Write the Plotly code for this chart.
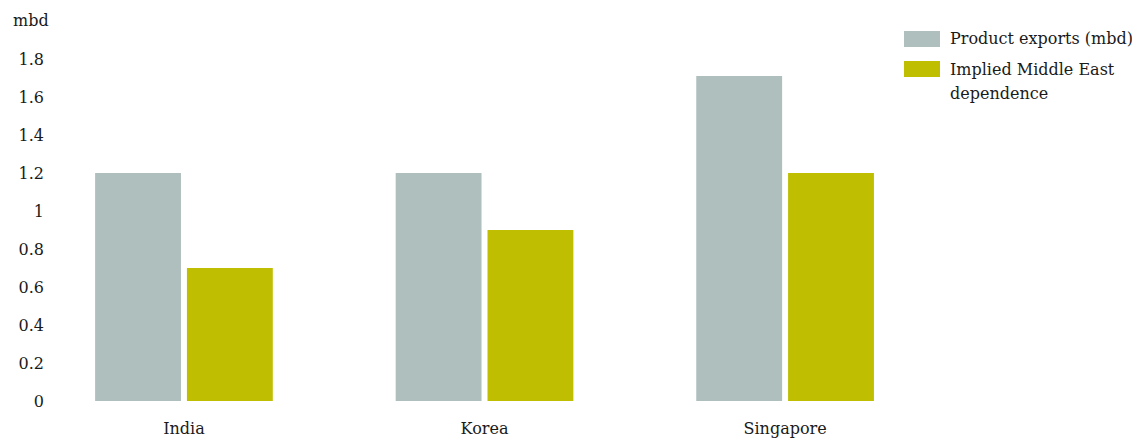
import plotly.graph_objects as go

countries = ["India", "Korea", "Singapore"]
product_exports = [1.2, 1.2, 1.71]
middle_east_dependence = [0.7, 0.9, 1.2]
y_ticks = [0, 0.2, 0.4, 0.6, 0.8, 1, 1.2, 1.4, 1.6, 1.8]
y_tick_text = ["0", "0.2", "0.4", "0.6", "0.8", "1", "1.2", "1.4", "1.6", "1.8"]

GREY = "#afbfbe"
OLIVE = "#bfbe00"
FONT = "DejaVu Serif"
TEXT = "#1a1a1a"

W, H = 1132, 439
ML, MR, MT, MB = 55, W - 890, 59, H - 401

fig = go.Figure()
fig.add_trace(go.Bar(x=[0, 1, 2], y=product_exports, name="Product exports (mbd)",
                     marker=dict(color=GREY, line=dict(width=0))))
fig.add_trace(go.Bar(x=[0, 1, 2], y=middle_east_dependence, name="Implied Middle East dependence",
                     marker=dict(color=OLIVE, line=dict(width=0))))

fig.update_layout(
    width=W, height=H,
    margin=dict(l=ML, r=MR, t=MT, b=MB),
    paper_bgcolor="white", plot_bgcolor="white",
    barmode="group", bargap=0.389, bargroupgap=0.065,
    showlegend=False,
    font=dict(family=FONT, size=16, color=TEXT),
    xaxis=dict(range=[-0.429, 2.349], tickvals=[0, 1, 2], ticktext=countries,
               showgrid=False, zeroline=False, showline=False, ticks="",
               ticklabelstandoff=16, automargin=False, fixedrange=True),
    yaxis=dict(range=[0, 1.8], tickvals=y_ticks, ticktext=y_tick_text,
               showgrid=False, zeroline=False, showline=False, ticks="",
               ticklabelstandoff=10, automargin=False, fixedrange=True),
)

# y-axis unit label
fig.add_annotation(x=0, y=1, xref="paper", yref="paper", text="mbd",
                   showarrow=False, xanchor="right", yanchor="middle",
                   xshift=-4, yshift=39, font=dict(size=16))

# legend drawn as swatches with labels in pixel-derived paper coords
def px_x(px):
    return (px - ML) / (W - ML - MR)

def px_y(py):
    return (H - MB - py) / (H - MT - MB)

legend_items = [
    (GREY, ["Product exports (mbd)"], 31),
    (OLIVE, ["Implied Middle East", "dependence"], 61),
]
LINE_STEP = 24
for color, lines, top in legend_items:
    fig.add_shape(type="rect", xref="paper", yref="paper",
                  x0=px_x(904), x1=px_x(940), y0=px_y(top + 16), y1=px_y(top),
                  fillcolor=color, line=dict(width=0))
    for i, line in enumerate(lines):
        fig.add_annotation(x=px_x(948), y=px_y(top + 8 + i * LINE_STEP),
                           xref="paper", yref="paper",
                           text=line, showarrow=False, xanchor="left", yanchor="middle",
                           align="left", font=dict(size=16))

fig.write_html("out.html")
